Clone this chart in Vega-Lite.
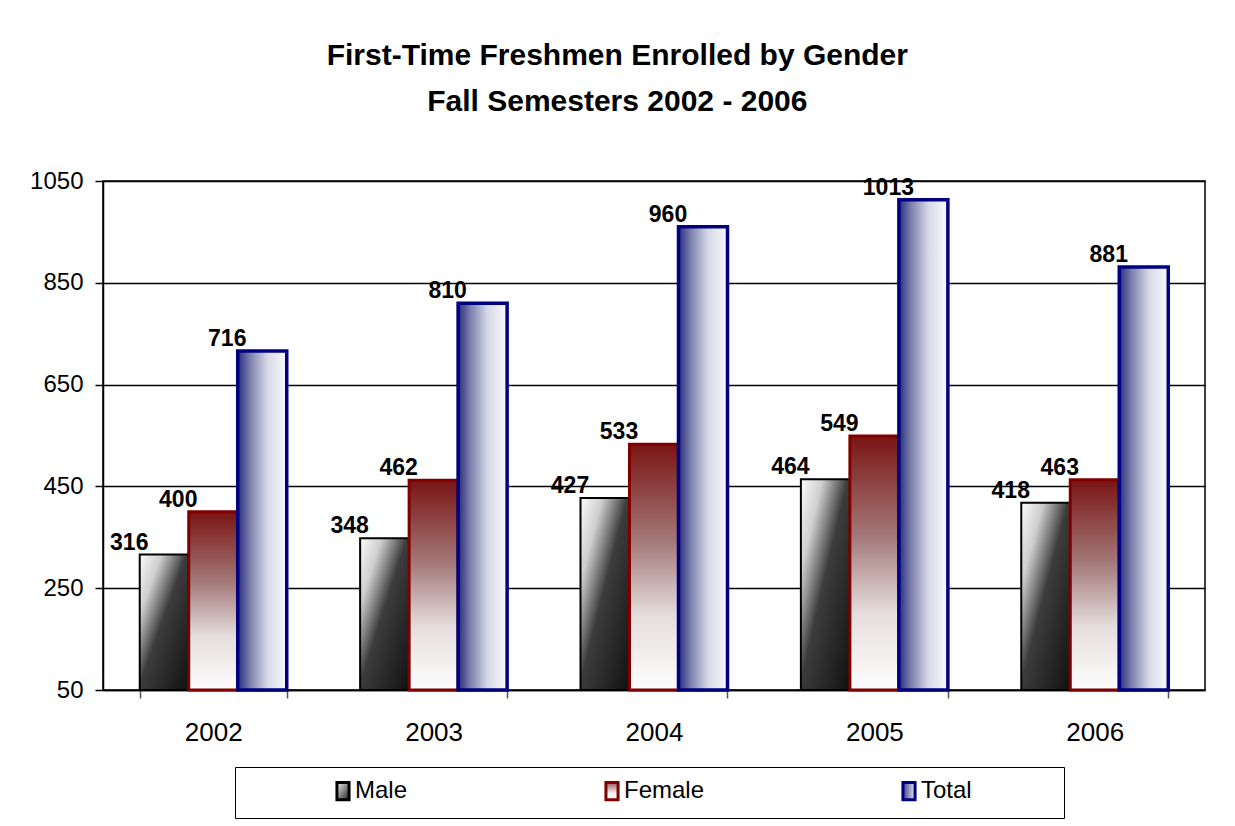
{
  "$schema": "https://vega.github.io/schema/vega-lite/v6.json",
  "width": 1102,
  "height": 509,
  "autosize": {"type": "none"},
  "padding": {"left": 103, "top": 181, "right": 30, "bottom": 136},
  "background": "white",
  "title": {
    "text": ["First-Time Freshmen Enrolled by Gender", "Fall Semesters 2002 - 2006"],
    "font": "Liberation Sans",
    "fontSize": 30,
    "fontWeight": "bold",
    "lineHeight": 46,
    "anchor": "middle",
    "frame": "bounds",
    "offset": 52,
    "color": "black"
  },
  "data": {
    "values": [
      {"year": "2002", "series": "Male", "value": 316},
      {"year": "2002", "series": "Female", "value": 400},
      {"year": "2002", "series": "Total", "value": 716},
      {"year": "2003", "series": "Male", "value": 348},
      {"year": "2003", "series": "Female", "value": 462},
      {"year": "2003", "series": "Total", "value": 810},
      {"year": "2004", "series": "Male", "value": 427},
      {"year": "2004", "series": "Female", "value": 533},
      {"year": "2004", "series": "Total", "value": 960},
      {"year": "2005", "series": "Male", "value": 464},
      {"year": "2005", "series": "Female", "value": 549},
      {"year": "2005", "series": "Total", "value": 1013},
      {"year": "2006", "series": "Male", "value": 418},
      {"year": "2006", "series": "Female", "value": 463},
      {"year": "2006", "series": "Total", "value": 881}
    ]
  },
  "encoding": {
    "x": {
      "field": "year",
      "type": "nominal",
      "scale": {"paddingInner": 0.333, "paddingOuter": 0.1667},
      "axis": {
        "title": null,
        "labelAngle": 0,
        "tickBand": "extent",
        "tickSize": 8,
        "tickColor": "#555555",
        "tickWidth": 1.5,
        "domainColor": "black",
        "domainWidth": 1.5,
        "labelFont": "Liberation Sans",
        "labelFontSize": 26,
        "labelColor": "black",
        "labelPadding": 21
      }
    },
    "xOffset": {
      "field": "series",
      "scale": {"domain": ["Male", "Female", "Total"], "paddingInner": 0, "paddingOuter": 0}
    },
    "y": {
      "field": "value",
      "type": "quantitative",
      "scale": {"domain": [50, 1050], "nice": false, "zero": false},
      "axis": {
        "values": [50, 250, 450, 650, 850, 1050],
        "format": "d",
        "title": null,
        "grid": true,
        "gridColor": "black",
        "gridWidth": 1.5,
        "gridOpacity": 1,
        "domainColor": "black",
        "domainWidth": 1.5,
        "tickColor": "black",
        "tickSize": 8,
        "tickWidth": 1.5,
        "labelFont": "Liberation Sans",
        "labelFontSize": 24,
        "labelColor": "black",
        "labelPadding": 12
      }
    }
  },
  "layer": [
    {
      "transform": [{"filter": "datum.series === 'Male'"}],
      "mark": {
        "type": "bar",
        "strokeWidth": 2,
        "fill": {
          "gradient": "linear", "x1": 0, "y1": 0, "x2": 1, "y2": 1,
          "stops": [
            {"offset": 0, "color": "#fbfbfb"},
            {"offset": 0.22, "color": "#cfcfcf"},
            {"offset": 0.48, "color": "#3c3c3c"},
            {"offset": 1, "color": "#111111"}
          ]
        }
      },
      "encoding": {
        "y2": {"datum": 50},
        "stroke": {
          "field": "series",
          "type": "nominal",
          "scale": {"domain": ["Male", "Female", "Total"], "range": ["#000000", "#800000", "#000080"]},
          "legend": {
            "orient": "none",
            "legendX": 132,
            "legendY": 586,
            "direction": "horizontal",
            "title": null,
            "padding": 12,
            "strokeColor": "black",
            "fillColor": "white",
            "symbolType": "M-0.7,-1H0.7V1H-0.7Z",
            "symbolSize": 300,
            "symbolStrokeWidth": 3,
            "symbolOffset": 84,
            "labelOffset": 0,
            "labelFont": "Liberation Sans",
            "labelFontSize": 24,
            "labelColor": "black",
            "labelLimit": 400,
            "columnPadding": 28,
            "labelExpr": "datum.label + '\u00a0\u00a0\u00a0\u00a0\u00a0\u00a0\u00a0\u00a0\u00a0\u00a0\u00a0\u00a0\u200b'",
            "encoding": {
              "symbols": {
                "fill": {
                  "condition": [
                    {"test": "datum.value === 'Male'", "value": {"gradient": "linear", "x1": 0, "y1": 0, "x2": 1, "y2": 1, "stops": [{"offset": 0, "color": "#f0f0f0"}, {"offset": 1, "color": "#222222"}]}},
                    {"test": "datum.value === 'Female'", "value": {"gradient": "linear", "x1": 0, "y1": 0, "x2": 0, "y2": 1, "stops": [{"offset": 0, "color": "#9a5a5a"}, {"offset": 0.6, "color": "#f4eeee"}, {"offset": 1, "color": "#ffffff"}]}}
                  ],
                  "value": {"gradient": "linear", "x1": 0, "y1": 0, "x2": 1, "y2": 0, "stops": [{"offset": 0, "color": "#3a3e88"}, {"offset": 1, "color": "#e8e8f0"}]}
                }
              }
            }
          }
        }
      }
    },
    {
      "transform": [{"filter": "datum.series === 'Female'"}],
      "mark": {
        "type": "bar",
        "strokeWidth": 3,
        "fill": {
          "gradient": "linear", "x1": 0, "y1": 0, "x2": 0, "y2": 1,
          "stops": [
            {"offset": 0, "color": "#7a1414"},
            {"offset": 0.4, "color": "#a47a7a"},
            {"offset": 0.7, "color": "#e6dede"},
            {"offset": 1, "color": "#fdfdfd"}
          ]
        }
      },
      "encoding": {
        "y2": {"datum": 50},
        "stroke": {
          "field": "series",
          "type": "nominal",
          "scale": {"domain": ["Male", "Female", "Total"], "range": ["#000000", "#800000", "#000080"]}
        }
      }
    },
    {
      "transform": [{"filter": "datum.series === 'Total'"}],
      "mark": {
        "type": "bar",
        "strokeWidth": 3.5,
        "fill": {
          "gradient": "linear", "x1": 0, "y1": 0, "x2": 1, "y2": 0,
          "stops": [
            {"offset": 0, "color": "#282c7c"},
            {"offset": 0.25, "color": "#7c80ac"},
            {"offset": 0.6, "color": "#d6d8e6"},
            {"offset": 1, "color": "#fafafc"}
          ]
        }
      },
      "encoding": {
        "y2": {"datum": 50},
        "stroke": {
          "field": "series",
          "type": "nominal",
          "scale": {"domain": ["Male", "Female", "Total"], "range": ["#000000", "#800000", "#000080"]}
        }
      }
    },
    {
      "mark": {
        "type": "text",
        "font": "Liberation Sans",
        "fontSize": 23,
        "fontWeight": "bold",
        "baseline": "alphabetic",
        "align": "center",
        "dx": -35,
        "dy": -5,
        "color": "black"
      },
      "encoding": {
        "text": {"field": "value", "type": "quantitative", "format": "d"}
      }
    }
  ],
  "config": {
    "view": {"stroke": "black", "strokeWidth": 1.5}
  }
}
